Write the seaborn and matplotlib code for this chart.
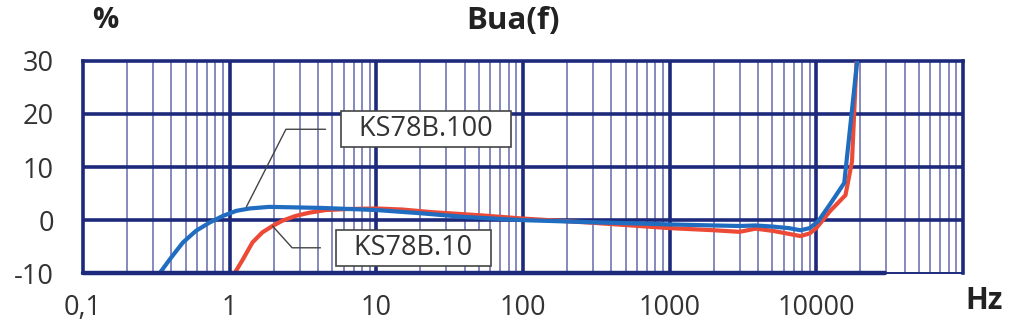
import numpy as np
import pandas as pd
import matplotlib
matplotlib.use("Agg")
import matplotlib.pyplot as plt
import seaborn as sns
from matplotlib.ticker import FixedLocator, MultipleLocator, NullFormatter

# ---------------- data ----------------
freq_100 = [0.333, 0.39, 0.48, 0.59, 0.73, 0.9, 1.11, 1.37, 1.86, 2.82, 4.25, 6.5, 10,
            20, 40, 100, 300, 1000, 2000, 3000, 3850, 5000, 6500, 7800, 9000,
            10300, 12400, 15500, 19000]
bua_100 = [-10, -7.4, -4.2, -2.0, -0.45, 0.8, 1.75, 2.2, 2.5, 2.4, 2.3, 2.1, 1.9,
           1.3, 0.6, 0.0, -0.4, -0.8, -1.0, -1.1, -1.0, -1.2, -1.5, -1.9, -1.5,
           -0.2, 3.0, 7.0, 30]

freq_10 = [1.08, 1.23, 1.43, 1.67, 1.96, 2.29, 2.82, 3.49, 4.51, 6.5, 10, 15, 24, 52,
           100, 300, 1000, 2000, 3000, 3850, 5000, 6000, 7800, 9000, 10000, 12400,
           15800, 17500, 18800]
bua_10 = [-10, -7.4, -4.2, -2.3, -1.1, -0.1, 0.8, 1.4, 1.9, 2.1, 2.2, 2.0, 1.5, 0.9,
          0.3, -0.5, -1.5, -1.9, -2.2, -1.6, -2.0, -2.4, -3.0, -2.5, -1.5, 1.7,
          4.7, 11, 30]

series_names = ["KS78B.10", "KS78B.100"]
x_ticks = [0.1, 1, 10, 100, 1000, 10000]
x_tick_labels = ["0,1", "1", "10", "100", "1000", "10000"]
y_ticks = [-10, 0, 10, 20, 30]

# ---------------- style ----------------
sns.set_style("white")
plt.rcParams["font.family"] = ["Open Sans", "DejaVu Sans"]
plt.rcParams["axes.unicode_minus"] = False

NAVY = "#1d2a7c"
MINOR = "#7d80b8"
BLUE = "#1f6cc0"
RED = "#ec4a36"
TXT = "#333333"

df = pd.concat([
    pd.DataFrame({"f": freq_10, "v": bua_10, "s": series_names[0]}),
    pd.DataFrame({"f": freq_100, "v": bua_100, "s": series_names[1]}),
], ignore_index=True)

fig = plt.figure(figsize=(10.17, 3.30), dpi=100)
ax = fig.add_axes([83 / 1017, 1 - 273.3 / 330, 880 / 1017, 212.6 / 330])
ax.set_xscale("log")
ax.set_xlim(0.1, 1e5)
ax.set_ylim(-10, 30)

# grid
minor_x = [m * 10.0 ** e for e in range(-1, 5) for m in range(2, 10)]
for xv in minor_x:
    ax.axvline(xv, color=MINOR, lw=1.3, zorder=1)
for xv in x_ticks[1:]:
    ax.axvline(xv, color=NAVY, lw=2.6, zorder=2)
for yv in [0, 10, 20]:
    ax.axhline(yv, color=NAVY, lw=2.6, zorder=2)

sns.lineplot(data=df, x="f", y="v", hue="s", palette={series_names[0]: RED, series_names[1]: BLUE},
             hue_order=series_names, sort=False, estimator=None, lw=3.0, legend=False,
             ax=ax, zorder=4)

# spines
for side in ["top", "left", "right"]:
    ax.spines[side].set_color(NAVY)
    ax.spines[side].set_linewidth(2.6)
ax.spines["bottom"].set_color(NAVY)
ax.spines["bottom"].set_linewidth(1.4)
ax.axhline(-10, xmin=0, xmax=(885 - 83) / 880, color=NAVY, lw=3.2, zorder=5, clip_on=False)

# ticks
ax.xaxis.set_major_locator(FixedLocator(x_ticks))
ax.set_xticklabels(x_tick_labels)
ax.xaxis.set_minor_formatter(NullFormatter())
ax.tick_params(axis="x", which="both", length=0, pad=15, labelsize=19.5, labelcolor=TXT)
ax.yaxis.set_major_locator(FixedLocator(y_ticks))
ax.yaxis.set_minor_locator(MultipleLocator(1))
ax.tick_params(axis="y", which="major", length=6, width=2.2, color=NAVY, pad=15,
               labelsize=19.5, labelcolor=TXT)
ax.tick_params(axis="y", which="minor", length=4, width=1.2, color=NAVY)
ax.set_xlabel("")
ax.set_ylabel("")

# annotations
bbox = dict(boxstyle="square,pad=0.15", fc="white", ec="#444444", lw=1.2)
ax.annotate("  KS78B.100  ", xy=(1.3, 2.5), xytext=(21.9, 17.1), ha="center", va="center",
            fontsize=19.5, color=TXT, bbox=bbox, zorder=6,
            arrowprops=dict(arrowstyle="-", color="#444444", lw=1.0, shrinkA=11, shrinkB=0,
                            connectionstyle="angle,angleA=0,angleB=63,rad=0"))
ax.annotate("  KS78B.10  ", xy=(1.96, -1.1), xytext=(17.9, -5.2), ha="center", va="center",
            fontsize=19.5, color=TXT, bbox=bbox, zorder=6,
            arrowprops=dict(arrowstyle="-", color="#444444", lw=1.0, shrinkA=11, shrinkB=0,
                            connectionstyle="angle,angleA=0,angleB=-48,rad=0"))

# titles
fig.text(105 / 1017, 1 - 21 / 330, "%", ha="center", va="center", fontsize=21,
         fontweight="bold", color="#222222")
fig.text(513 / 1017, 1 - 21 / 330, "Bua(f)", ha="center", va="center", fontsize=22.5,
         fontweight="bold", color="#222222")
fig.text(984 / 1017, 1 - 301 / 330, "Hz", ha="center", va="center", fontsize=21.5,
         fontweight="bold", color="#222222")

fig.savefig("out.png", dpi=100)
